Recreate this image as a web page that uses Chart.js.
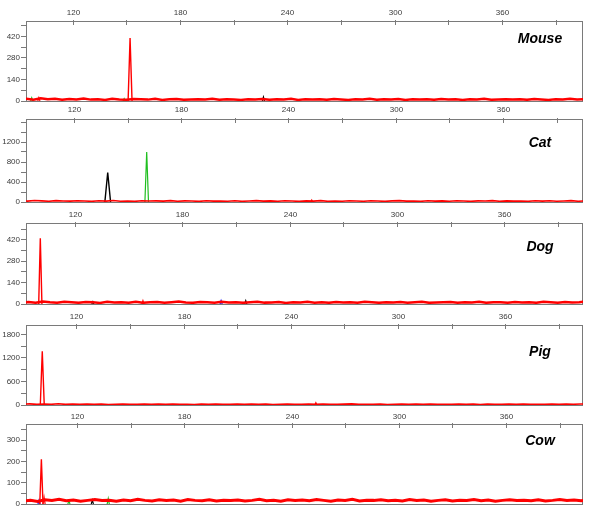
<!DOCTYPE html>
<html>
<head>
<meta charset="utf-8">
<script src="https://cdn.jsdelivr.net/npm/chart.js@4.4.1/dist/chart.umd.min.js"></script>
<style>
  html, body { margin: 0; padding: 0; background: #ffffff; }
  #wrap { position: relative; width: 600px; height: 519px; overflow: hidden; background: #fff; }
  .panel { position: absolute; left: 0; }
</style>
</head>
<body>
<div id="wrap"></div>
<script>
// ---------- shared axis data ----------
const xTickValues = [120, 150, 180, 210, 240, 270, 300, 330, 360, 390];
const xLabelValues = [120, 180, 240, 300, 360];

// sampling positions (bp) for the baseline noise trace
const noiseX = [90,94,98,102,106,110,114,118,122,126,130,134,138,142,146,150,154,158,162,166,
  170,174,178,182,186,190,194,198,202,206,210,214,218,222,226,230,234,238,242,246,
  250,254,258,262,266,270,274,278,282,286,290,294,298,302,306,310,314,318,322,326,
  330,334,338,342,346,350,354,358,362,366,370,374,378,382,386,390,394,398,402,406];

// ---------- Mouse ----------
const mouseYTicks = [0, 70, 140, 210, 280, 350, 420, 490];
const mouseYLabels = [0, 140, 280, 420];
const mouseNoise = [12,15,9,18,11,14,8,13,10,16, 9,12,7,14,10,8,13,11,9,15,
  7,11,13,8,10,12,9,14,8,11, 10,7,12,9,13,8,11,10,14,7,
  12,9,11,8,13,10,7,12,9,14, 8,11,10,13,7,12,9,11,8,13,
  10,12,7,11,9,14,8,10,12,9, 11,8,13,10,7,12,9,14,10,11];
const mousePeakPos = [152.0, 226.6, 97.0, 101.0, 148.7];
const mousePeakHeight = [410, 26, 20, 22, 15];
const mousePeakWidth = [1.1, 0.6, 0.6, 0.6, 0.6];
const mousePeakChannel = ['red', 'black', 'green', 'red', 'green'];

// ---------- Cat ----------
const catYTicks = [0, 200, 400, 600, 800, 1000, 1200, 1400, 1600];
const catYLabels = [0, 400, 800, 1200];
const catNoise = [25,18,30,22,15,28,20,17,26,19, 14,24,18,29,16,21,13,25,19,22,
  17,27,15,23,20,12,26,18,21,16, 24,14,20,27,17,22,15,25,19,13,
  23,18,28,14,21,16,26,20,15,24, 19,13,22,27,17,21,14,25,18,23,
  16,26,19,14,23,20,28,15,22,17, 21,14,25,18,24,16,20,27,15,22];
const catPeakPos = [138.9, 160.7, 253.0];
const catPeakHeight = [590, 1000, 40];
const catPeakWidth = [1.6, 1.0, 0.6];
const catPeakChannel = ['black', 'green', 'red'];

// ---------- Dog ----------
const dogYTicks = [0, 70, 140, 210, 280, 350, 420, 490];
const dogYLabels = [0, 140, 280, 420];
const dogNoise = [10,13,8,16,11,9,14,12,8,13, 11,7,15,10,12,9,14,8,11,13,
  9,12,16,10,8,13,11,9,14,10, 12,8,11,14,9,10,13,7,12,10,
  14,9,11,8,13,10,12,9,15,11, 8,12,10,13,9,11,14,8,10,12,
  13,9,11,10,14,8,12,11,9,13, 10,12,8,14,11,9,13,10,12,16];
const dogPeakPos = [100.6, 201.7, 215.5, 158.0, 130.0];
const dogPeakHeight = [430, 22, 22, 22, 15];
const dogPeakWidth = [0.9, 0.6, 0.6, 0.6, 0.6];
const dogPeakChannel = ['red', 'blue', 'black', 'red', 'black'];

// ---------- Pig ----------
const pigYTicks = [0, 300, 600, 900, 1200, 1500, 1800];
const pigYLabels = [0, 600, 1200, 1800];
const pigNoise = [20,28,15,24,18,30,16,22,19,26, 17,23,14,21,27,16,20,25,15,22,
  18,24,16,21,13,25,19,23,17,20, 26,15,22,18,24,14,21,27,16,20,
  23,17,25,19,15,22,28,16,21,18, 24,14,20,26,17,22,15,23,19,21,
  16,25,18,22,14,27,20,17,24,19, 22,15,21,18,26,16,23,19,25,28];
const pigPeakPos = [101.0, 254.0];
const pigPeakHeight = [1370, 60];
const pigPeakWidth = [1.1, 0.6];
const pigPeakChannel = ['red', 'red'];

// ---------- Cow ----------
const cowYTicks = [0, 50, 100, 150, 200, 250, 300, 350];
const cowYLabels = [0, 100, 200, 300];
const cowNoise = [14,18,12,20,16,22,15,19,13,17, 21,16,18,13,19,15,22,17,14,20,
  16,19,13,21,17,15,20,14,18,16, 19,14,17,22,15,18,13,20,16,19,
  15,21,17,13,19,16,22,14,18,17, 20,15,18,14,21,16,19,13,17,20,
  14,18,16,21,15,19,13,17,20,16, 18,15,20,14,17,21,16,19,15,22];
const cowPeakPos = [100.1, 98.8, 137.5, 101.6, 115.5, 128.6];
const cowPeakHeight = [210, 18, 25, 32, 15, 18];
const cowPeakWidth = [0.9, 0.6, 0.6, 0.6, 0.6, 0.6];
const cowPeakChannel = ['red', 'blue', 'green', 'red', 'green', 'black'];

// ---------- styles / layout ----------
const channelColor = { red: '#ff0000', black: '#000000', green: '#1fbf1f', blue: '#0000ff' };
const FONT = '"Liberation Sans", Arial, sans-serif';

const panels = [
  { name: 'Mouse', top: 21, bottom: 101, xMin: 93.8, xMax: 405.3, yMax: 520, yTicks: mouseYTicks, yLabels: mouseYLabels,
    noise: mouseNoise, pos: mousePeakPos, h: mousePeakHeight, w: mousePeakWidth, ch: mousePeakChannel, nw: 2.5, titleBase: 22, labelOff: 8 },
  { name: 'Cat', top: 119, bottom: 202, xMin: 93.2, xMax: 404.7, yMax: 1660, yTicks: catYTicks, yLabels: catYLabels,
    noise: catNoise, pos: catPeakPos, h: catPeakHeight, w: catPeakWidth, ch: catPeakChannel, nw: 1.6, titleBase: 28, labelOff: 9 },
  { name: 'Dog', top: 223, bottom: 304, xMin: 92.6, xMax: 404.1, yMax: 530, yTicks: dogYTicks, yLabels: dogYLabels,
    noise: dogNoise, pos: dogPeakPos, h: dogPeakHeight, w: dogPeakWidth, ch: dogPeakChannel, nw: 2.5, titleBase: 28, labelOff: 8 },
  { name: 'Pig', top: 325, bottom: 405, xMin: 91.9, xMax: 403.4, yMax: 2040, yTicks: pigYTicks, yLabels: pigYLabels,
    noise: pigNoise, pos: pigPeakPos, h: pigPeakHeight, w: pigPeakWidth, ch: pigPeakChannel, nw: 1.6, titleBase: 31, labelOff: 8 },
  { name: 'Cow', top: 424, bottom: 504, xMin: 91.5, xMax: 403.0, yMax: 375, yTicks: cowYTicks, yLabels: cowYLabels,
    noise: cowNoise, pos: cowPeakPos, h: cowPeakHeight, w: cowPeakWidth, ch: cowPeakChannel, nw: 3, titleBase: 21, labelOff: 7 }
];

const framePlugin = {
  id: 'frame',
  beforeDatasetsDraw(chart) {
    const { ctx, chartArea: a, scales } = chart;
    const p = chart.options.plugins.frame;
    ctx.save();
    ctx.strokeStyle = '#7a7a7a';
    ctx.lineWidth = 1;
    ctx.strokeRect(Math.round(a.left) + 0.5, Math.round(a.top) + 0.5, Math.round(a.right - a.left) - 1, Math.round(a.bottom - a.top));
    // inward ticks + labels on the top axis
    ctx.font = '8px ' + FONT;
    ctx.fillStyle = '#3a3a3a';
    ctx.textAlign = 'center';
    ctx.textBaseline = 'middle';
    xTickValues.forEach(v => {
      const px = Math.round(scales.x.getPixelForValue(v)) + 0.5;
      ctx.beginPath();
      ctx.moveTo(px, a.top - 1);
      ctx.lineTo(px, a.top + 4);
      ctx.stroke();
      if (xLabelValues.includes(v)) ctx.fillText(String(v), px, a.top - p.labelOff);
    });
    ctx.restore();
  },
  afterDraw(chart) {
    const { ctx, chartArea: a } = chart;
    const p = chart.options.plugins.frame;
    ctx.save();
    ctx.font = 'italic bold 14px ' + FONT;
    ctx.fillStyle = '#000';
    ctx.textAlign = 'center';
    ctx.textBaseline = 'alphabetic';
    ctx.fillText(p.name, a.right - 43, a.top + p.titleBase);
    ctx.restore();
  }
};

const wrap = document.getElementById('wrap');

panels.forEach(p => {
  const div = document.createElement('div');
  div.className = 'panel';
  div.style.top = (p.top - 21) + 'px';
  const cv = document.createElement('canvas');
  const H = p.bottom - p.top + 25;
  cv.width = 600; cv.height = H;
  cv.style.width = '600px'; cv.style.height = H + 'px';
  div.appendChild(cv);
  wrap.appendChild(div);

  const datasets = [{
    data: noiseX.map((x, i) => ({ x: x, y: p.noise[i] })),
    borderColor: channelColor.red,
    borderWidth: p.nw,
    pointRadius: 0,
    tension: 0
  }];
  p.pos.forEach((x, i) => {
    datasets.push({
      data: [{ x: x - p.w[i], y: 0 }, { x: x, y: p.h[i] }, { x: x + p.w[i], y: 0 }],
      borderColor: channelColor[p.ch[i]],
      borderWidth: i === 0 ? 1.4 : 1.2,
      pointRadius: 0,
      tension: 0
    });
  });

  new Chart(cv, {
    type: 'line',
    data: { datasets },
    plugins: [framePlugin],
    options: {
      responsive: false,
      animation: false,
      devicePixelRatio: 1,
      layout: { padding: { top: 1, bottom: 4, left: 0, right: 17 } },
      plugins: { legend: { display: false }, tooltip: { enabled: false },
        frame: { name: p.name, titleBase: p.titleBase, labelOff: p.labelOff } },
      scales: {
        x: {
          type: 'linear', position: 'top', min: p.xMin, max: p.xMax,
          afterBuildTicks: s => { s.ticks = xTickValues.map(v => ({ value: v })); },
          afterFit: s => { s.height = 20; s.paddingLeft = 0; s.paddingRight = 0; },
          grid: { display: false },
          border: { display: false },
          ticks: { display: false }
        },
        y: {
          type: 'linear', min: 0, max: p.yMax,
          afterBuildTicks: s => { s.ticks = p.yTicks.map(v => ({ value: v })); },
          afterFit: s => { s.width = 26; s.paddingTop = 0; s.paddingBottom = 0; },
          grid: { drawOnChartArea: false, drawTicks: true, tickLength: 5, color: '#7a7a7a' },
          border: { display: false },
          ticks: {
            autoSkip: false, padding: 1,
            color: '#3a3a3a', font: { family: FONT, size: 8 },
            callback: v => p.yLabels.includes(v) ? String(v) : ''
          }
        }
      }
    }
  });
});
</script>
</body>
</html>
